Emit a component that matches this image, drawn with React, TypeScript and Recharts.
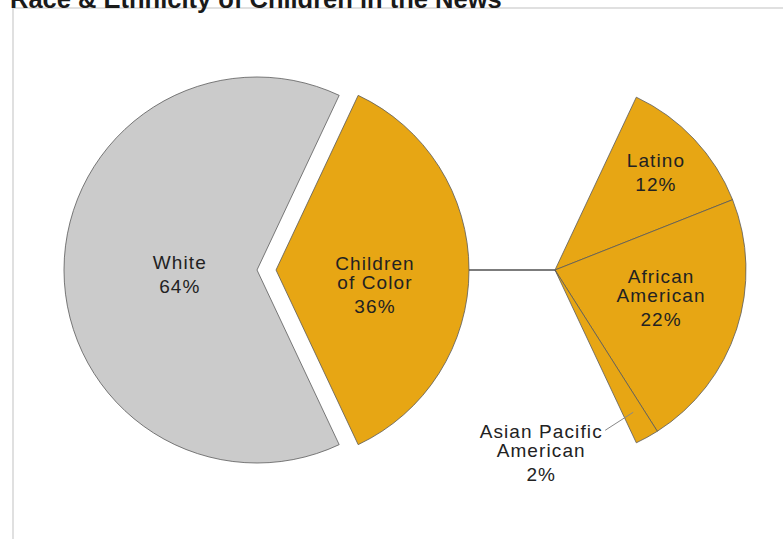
import { PieChart, Pie, Cell } from "recharts";

const mainNames = ["White", "Children of Color"];
const mainValues = [64, 36];
const subNames = ["Latino", "African American", "Asian Pacific American"];
const subValues = [12, 22, 2];

const mainData = mainNames.map((name, i) => ({ name, value: mainValues[i] }));
const subData = subNames.map((name, i) => ({ name, value: subValues[i] }));

const GOLD = "#e7a614";
const GRAY = "#cbcbcb";
const EDGE = "#5a5a5a";
const TEXT = "#222";
const FONT = "'Liberation Sans', Arial, sans-serif";

// share of the circle taken by the exploded slice, centred on 3 o'clock
const colorAngle = (360 * mainValues[1]) / (mainValues[0] + mainValues[1]);
const half = colorAngle / 2;

const R = 193;
const CY = 270;
const LEFT_CX = 257;
const EXPLODE = 19;
const RIGHT_CX = 555;

const RAD = Math.PI / 180;

const labelLines: Record<string, string[]> = {
  White: ["White"],
  "Children of Color": ["Children", "of Color"],
  Latino: ["Latino"],
  "African American": ["African", "American"],
  "Asian Pacific American": ["Asian Pacific", "American"],
};
// f: fraction of radius along the mid angle, dy: shift of the first line
const labelPos: Record<string, { f: number; dy: number }> = {
  White: { f: 0.4, dy: -8 },
  "Children of Color": { f: 0.513, dy: -7 },
  Latino: { f: 0.725, dy: -15 },
  "African American": { f: 0.584, dy: -28 },
};

function Lines({ x, y, name, value }: { x: number; y: number; name: string; value: number }) {
  const lines = labelLines[name];
  const n = lines.length;
  return (
    <text
      textAnchor="middle"
      fontFamily={FONT}
      fontSize={19}
      letterSpacing={1.1}
      fill={TEXT}
      dominantBaseline="central"
    >
      {lines.map((l, i) => (
        <tspan key={i} x={x} y={y + i * 19}>
          {l}
        </tspan>
      ))}
      <tspan x={x} y={y + (n - 1) * 19 + 24}>
        {value}%
      </tspan>
    </text>
  );
}

function anchor(p: any) {
  const pos = labelPos[p.name];
  const r = p.outerRadius * pos.f;
  return {
    x: p.cx + r * Math.cos(-p.midAngle * RAD),
    y: p.cy + r * Math.sin(-p.midAngle * RAD) + pos.dy,
  };
}

function renderMain(visible: string) {
  return (p: any) => {
    if (p.name !== visible) return null;
    const { x, y } = anchor(p);
    return (
      <g>
        {p.name === "Children of Color" && (
          <line x1={p.cx + p.outerRadius} y1={p.cy} x2={RIGHT_CX} y2={p.cy} stroke="#505050" strokeWidth={1.5} />
        )}
        <Lines x={x} y={y} name={p.name} value={p.value} />
      </g>
    );
  };
}

function renderSub(p: any) {
  if (p.name === "Asian Pacific American") {
    const r = p.outerRadius * 0.85;
    const x1 = p.cx + r * Math.cos(-p.midAngle * RAD);
    const y1 = p.cy + r * Math.sin(-p.midAngle * RAD);
    const x2 = x1 - 28;
    const y2 = y1 + 18;
    return (
      <g>
        <line x1={x1} y1={y1} x2={x2} y2={y2} stroke="#888" strokeWidth={1} />
        <Lines x={x2 - 64} y={y2 + 1} name={p.name} value={p.value} />
      </g>
    );
  }
  const { x, y } = anchor(p);
  return <Lines x={x} y={y} name={p.name} value={p.value} />;
}

export default function App() {
  return (
    <div
      style={{
        position: "absolute",
        left: 0,
        top: 0,
        width: 783,
        height: 539,
        background: "#fff",
        overflow: "hidden",
        fontFamily: FONT,
      }}
    >
      <div
        style={{
          position: "absolute",
          left: 12,
          top: 7,
          right: 0,
          bottom: 0,
          borderLeft: "2px solid #e0e0e0",
          borderTop: "2px solid #e0e0e0",
        }}
      />
      <div
        style={{
          position: "absolute",
          left: 10,
          top: -13,
          fontSize: 25.5,
          lineHeight: "25px",
          fontWeight: 700,
          color: "#1a1a1a",
          whiteSpace: "nowrap",
        }}
      >
        Race &amp; Ethnicity of Children in the News
      </div>
      <div style={{ position: "absolute", left: 0, top: 0 }}>
        <PieChart width={783} height={539} margin={{ top: 0, right: 0, bottom: 0, left: 0 }}>
          <Pie
            data={mainData}
            dataKey="value"
            nameKey="name"
            cx={LEFT_CX}
            cy={CY}
            outerRadius={R}
            startAngle={half}
            endAngle={half + 360}
            isAnimationActive={false}
            label={renderMain("White")}
            labelLine={false}
          >
            {mainData.map((d) => (
              <Cell
                key={d.name}
                fill={d.name === "White" ? GRAY : "none"}
                stroke={d.name === "White" ? EDGE : "none"}
                strokeWidth={0.8}
              />
            ))}
          </Pie>
          <Pie
            data={mainData}
            dataKey="value"
            nameKey="name"
            cx={LEFT_CX + EXPLODE}
            cy={CY}
            outerRadius={R}
            startAngle={half}
            endAngle={half + 360}
            isAnimationActive={false}
            label={renderMain("Children of Color")}
            labelLine={false}
          >
            {mainData.map((d) => (
              <Cell
                key={d.name}
                fill={d.name === "White" ? "none" : GOLD}
                stroke={d.name === "White" ? "none" : EDGE}
                strokeWidth={0.8}
              />
            ))}
          </Pie>
          <Pie
            data={subData}
            dataKey="value"
            nameKey="name"
            cx={RIGHT_CX}
            cy={CY}
            outerRadius={191}
            startAngle={half}
            endAngle={-half}
            isAnimationActive={false}
            label={renderSub}
            labelLine={false}
          >
            {subData.map((d) => (
              <Cell key={d.name} fill={GOLD} stroke={EDGE} strokeWidth={0.8} />
            ))}
          </Pie>
        </PieChart>
      </div>
    </div>
  );
}
